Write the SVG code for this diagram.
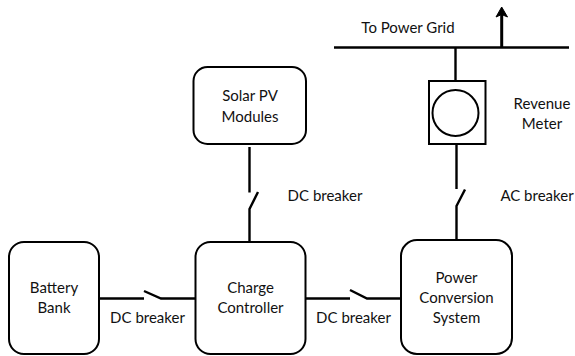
<svg xmlns="http://www.w3.org/2000/svg" width="575" height="356" viewBox="0 0 575 356">
<style>
.n{fill:#fff;stroke:#000;stroke-width:2}
.c{fill:none;stroke:#000;stroke-width:2.400}
.b{fill:none;stroke:#000;stroke-width:2.400}
text{font-family:"Lato","Open Sans",sans-serif;font-size:15px;fill:#111;text-anchor:middle}
</style>
<g id="connectors">
<path class="b" d="M334 47.500H569"/>
<path d="M501.700 47V10" fill="none" stroke="#000" stroke-width="3"/>
<path d="M501.700 7L507.500 17L501.700 14.500L496 17Z" fill="#000" stroke="#000" stroke-width="1"/>
<path class="c" d="M455.500 47V81"/>
<path class="c" d="M456.500 144V189M465 189.500L456.500 206V240"/>
<path class="c" d="M249.500 147V192.500M258 192L249.500 209V242"/>
<path class="c" d="M99 298.500H144M144 291L161 298.500H195"/>
<path class="c" d="M305.500 298.500H350M350 290L367 298.500H401"/>
</g>
<g id="solar"><rect class="n" x="193.500" y="67" width="112.500" height="77" rx="14"/><text x="250" y="101">Solar PV</text><text x="250" y="122">Modules</text></g>
<g id="meter"><rect class="n" x="429" y="81" width="56.500" height="63"/><circle class="n" cx="455.500" cy="113" r="23"/></g>
<g id="battery"><rect class="n" x="9" y="242" width="90" height="112" rx="15"/><text x="54" y="293">Battery</text><text x="54" y="313">Bank</text></g>
<g id="charge"><rect class="n" x="195.500" y="242" width="110" height="112" rx="15"/><text x="250.500" y="293">Charge</text><text x="250.500" y="313">Controller</text></g>
<g id="power"><rect class="n" x="401" y="240" width="111" height="114" rx="16"/><text x="456.500" y="283">Power</text><text x="456.500" y="303">Conversion</text><text x="456.500" y="323">System</text></g>
<text x="147.500" y="323">DC breaker</text>
<text x="353.500" y="323">DC breaker</text>
<text x="325" y="201">DC breaker</text>
<text x="537" y="201">AC breaker</text>
<text x="408" y="33">To Power Grid</text>
<text x="542" y="109">Revenue</text>
<text x="542" y="129">Meter</text>
</svg>
